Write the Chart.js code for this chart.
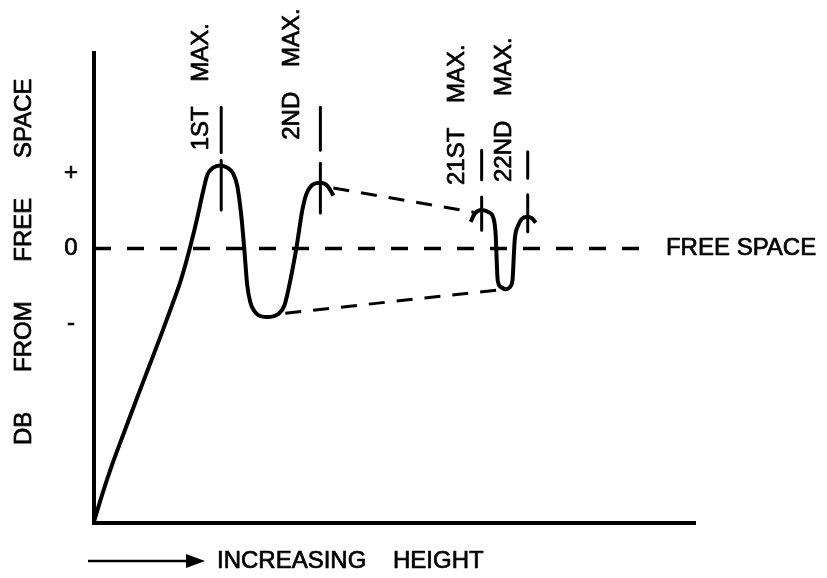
<!DOCTYPE html>
<html>
<head>
<meta charset="utf-8">
<script src="https://cdn.jsdelivr.net/npm/chart.js@4.4.1/dist/chart.umd.min.js"></script>
<style>
  html, body { margin: 0; padding: 0; background: #fff; }
  #wrap { width: 827px; height: 578px; position: relative; }
</style>
</head>
<body>
<div id="wrap"><canvas id="chart"></canvas></div>
<script>
// Field strength relative to free space (tick units: -, 0, +) versus antenna height.

// Curve from ground level through the 1st maximum, 1st minimum and 2nd maximum
const curveLowOrder = [
  { x: 0,   y: -3.62 }, { x: 8,   y: -3.27 }, { x: 18,  y: -2.87 }, { x: 30,  y: -2.44 },
  { x: 43,  y: -1.98 }, { x: 56,  y: -1.53 }, { x: 68,  y: -1.11 }, { x: 78,  y: -0.75 },
  { x: 86,  y: -0.45 }, { x: 92,  y: -0.18 }, { x: 97,  y: 0.07 },  { x: 103, y: 0.40 },
  { x: 109, y: 0.76 },  { x: 113, y: 0.97 },  { x: 119, y: 1.07 },  { x: 126, y: 1.10 },
  { x: 133, y: 1.07 },  { x: 139, y: 0.99 },  { x: 143, y: 0.83 },  { x: 147, y: 0.44 },
  { x: 150, y: 0.0 },   { x: 153, y: -0.49 }, { x: 156, y: -0.71 }, { x: 162, y: -0.86 },
  { x: 173, y: -0.91 }, { x: 184, y: -0.87 }, { x: 190, y: -0.76 }, { x: 194, y: -0.55 },
  { x: 202, y: 0.0 },   { x: 208, y: 0.51 },  { x: 212, y: 0.72 },  { x: 217, y: 0.83 },
  { x: 226, y: 0.87 },  { x: 233, y: 0.83 },  { x: 239, y: 0.70 }
];

// Curve around the 21st and 22nd maxima
const curveHighOrder = [
  { x: 376, y: 0.35 },  { x: 380, y: 0.46 },  { x: 387, y: 0.51 },  { x: 394, y: 0.48 },
  { x: 399, y: 0.39 },  { x: 401, y: 0.18 },  { x: 402, y: -0.15 }, { x: 403, y: -0.42 },
  { x: 406, y: -0.51 }, { x: 411, y: -0.54 }, { x: 416, y: -0.50 }, { x: 418, y: -0.39 },
  { x: 419, y: -0.13 }, { x: 420, y: 0.11 },  { x: 423, y: 0.29 },  { x: 427, y: 0.39 },
  { x: 432, y: 0.42 },  { x: 437, y: 0.40 },  { x: 441, y: 0.34 }
];

// Dashed envelopes joining the maxima and the minima
const maxEnvelope = [{ x: 239, y: 0.80 }, { x: 379, y: 0.48 }];
const minEnvelope = [{ x: 191, y: -0.86 }, { x: 404, y: -0.55 }];

// Free-space reference level
const freeSpaceLine = [{ x: 0, y: 0 }, { x: 559, y: 0 }];

// Vertical marks at each labelled maximum: x, upper stroke, lower stroke
const markerX     = [127, 226, 387, 433];
const markerUpper = [[1.87, 1.27], [1.87, 1.30], [1.30, 0.91], [1.28, 0.93]];
const markerLower = [[1.17, 0.51], [1.13, 0.47], [0.68, 0.24], [0.71, 0.22]];

// Labels of the maxima and where their text starts
const maxLabels = ['1ST MAX.', '2ND MAX.', '21ST MAX.', '22ND MAX.'];
const maxLabelX = [107, 198, 363, 410];
const maxLabelY = [1.30, 1.44, 0.84, 0.88];

const freeSpaceLabel = 'FREE SPACE';
const freeSpaceLabelX = 571;

const yTickValues = [-1, 0, 1];
const yTickLabels = ['-', '0', '+'];
const yAxisTitle = 'DB FROM FREE SPACE';
const xAxisTitle = 'INCREASING HEIGHT';

const FAMILY = '"Liberation Sans", Arial, Helvetica, sans-serif';
const FONT = '24px ' + FAMILY;

// Build the marker strokes as one dataset broken by gaps
const markerPoints = [];
markerX.forEach((x, i) => {
  markerPoints.push({ x, y: markerUpper[i][0] }, { x, y: markerUpper[i][1] }, { x, y: null });
  markerPoints.push({ x, y: markerLower[i][0] }, { x, y: markerLower[i][1] }, { x, y: null });
});

const ink = '#000';

// lettering: filled glyphs with a thin outline for a heavier pen stroke
function letter(ctx, text, x, y) {
  ctx.strokeText(text, x, y);
  ctx.fillText(text, x, y);
}

const textPlugin = {
  id: 'drawingText',
  beforeDraw(chart) {
    const ctx = chart.ctx;
    ctx.save();
    ctx.fillStyle = '#fff';
    ctx.fillRect(0, 0, chart.width, chart.height);
    ctx.restore();
  },
  afterDraw(chart) {
    const ctx = chart.ctx;
    const xs = chart.scales.x, ys = chart.scales.y;
    const area = chart.chartArea;
    ctx.save();
    ctx.fillStyle = ink;
    ctx.strokeStyle = ink;
    ctx.lineWidth = 0.7;
    ctx.lineJoin = 'round';
    ctx.font = FONT;

    // labels of the maxima, written upward
    ctx.wordSpacing = '18px';
    ctx.textAlign = 'left';
    ctx.textBaseline = 'middle';
    maxLabels.forEach((t, i) => {
      ctx.save();
      ctx.translate(xs.getPixelForValue(maxLabelX[i]), ys.getPixelForValue(maxLabelY[i]));
      ctx.rotate(-Math.PI / 2);
      letter(ctx, t, 0, 0);
      ctx.restore();
    });

    // free space label at the end of the dashed reference line
    ctx.wordSpacing = '0px';
    letter(ctx, freeSpaceLabel, xs.getPixelForValue(freeSpaceLabelX), ys.getPixelForValue(0));

    // vertical axis title
    ctx.save();
    ctx.wordSpacing = '33px';
    ctx.translate(area.left - 70, area.bottom - 78);
    ctx.rotate(-Math.PI / 2);
    letter(ctx, yAxisTitle, 0, 0);
    ctx.restore();

    // horizontal axis title with its arrow
    const ty = area.bottom + 38;
    ctx.save();
    ctx.lineWidth = 2.5;
    ctx.beginPath();
    ctx.moveTo(area.left - 6, ty);
    ctx.lineTo(area.left + 94, ty);
    ctx.stroke();
    ctx.beginPath();
    ctx.moveTo(area.left + 92, ty - 7);
    ctx.lineTo(area.left + 111, ty);
    ctx.lineTo(area.left + 92, ty + 7);
    ctx.closePath();
    ctx.fill();
    ctx.restore();
    ctx.wordSpacing = '20px';
    letter(ctx, xAxisTitle, area.left + 123, ty);
    ctx.restore();
  }
};

new Chart(document.getElementById('chart'), {
  type: 'line',
  data: {
    datasets: [
      { data: curveLowOrder, borderColor: ink, borderWidth: 4, cubicInterpolationMode: 'monotone' },
      { data: curveHighOrder, borderColor: ink, borderWidth: 4, cubicInterpolationMode: 'monotone' },
      { data: freeSpaceLine, borderColor: ink, borderWidth: 3.5, borderDash: [17, 16] },
      { data: maxEnvelope, borderColor: ink, borderWidth: 3, borderDash: [16, 12] },
      { data: minEnvelope, borderColor: ink, borderWidth: 3, borderDash: [16, 12] },
      { data: markerPoints, borderColor: ink, borderWidth: 3, spanGaps: false }
    ]
  },
  options: {
    responsive: true,
    maintainAspectRatio: false,
    animation: false,
    events: [],
    layout: { padding: { left: 0, top: 53, right: 132, bottom: 55 } },
    elements: {
      point: { radius: 0, hoverRadius: 0 },
      line: { tension: 0, borderCapStyle: 'butt', borderJoinStyle: 'round', fill: false }
    },
    plugins: { legend: { display: false }, tooltip: { enabled: false }, title: { display: false } },
    scales: {
      x: {
        type: 'linear', min: 0, max: 600,
        grid: { display: false, drawTicks: false },
        border: { display: true, color: ink, width: 4 },
        ticks: { display: false },
        afterFit(scale) { scale.height = 0; }
      },
      y: {
        type: 'linear', min: -3.64, max: 2.59,
        grid: { display: false, drawTicks: false },
        border: { display: true, color: ink, width: 4 },
        afterBuildTicks(scale) { scale.ticks = yTickValues.map(v => ({ value: v })); },
        afterFit(scale) { scale.width = 94; },
        ticks: {
          padding: 16,
          crossAlign: 'center',
          color: ink,
          textStrokeColor: ink,
          textStrokeWidth: 0.7,
          font: { family: FAMILY, size: 24 },
          callback(value) { return yTickLabels[yTickValues.indexOf(value)]; }
        }
      }
    }
  },
  plugins: [textPlugin]
});
</script>
</body>
</html>
